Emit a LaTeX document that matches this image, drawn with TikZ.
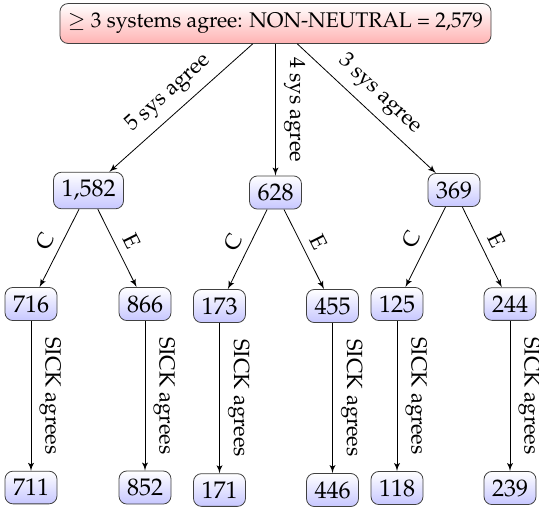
\documentclass[tikz,border=0pt,12pt]{standalone}
\usepackage[T1]{fontenc}
\usepackage{mathpazo}
\usetikzlibrary{shapes,arrows,calc}
\tikzstyle{line} = [draw, -latex']
\tikzstyle{total} = [draw=black!75, rectangle, rounded corners, top color=white, bottom color=red!30, text centered, font=\fontsize{10.6}{12.7}\selectfont, inner ysep=4.8pt]
\tikzstyle{count} = [draw=black!75, rectangle, rounded corners, top color=white, bottom color=blue!22, text centered]
\tikzstyle{edgelabel} = [midway, above, sloped, font=\small]

\begin{document}
\begin{tikzpicture}[x=0.5pt, y=-0.5pt]
        \useasboundingbox (0,0) rectangle (539,510);
        \node[total] (all) at (275.5,23.5) {$\geq$ 3 systems agree: NON-NEUTRAL = 2,579};
        % systems agreeing
        \node[count] (five) at (88.5,190.5) {1,582};
        \node[count] (four) at (275.5,192.5) {628};
        \node[count] (three) at (454,190) {369};
        % C / E split
        \node[count] (fiveC) at (31,304) {716};
        \node[count] (fiveE) at (145,304) {866};
        \node[count] (fourC) at (219.5,306) {173};
        \node[count] (fourE) at (332.5,306) {455};
        \node[count] (threeC) at (397,304) {125};
        \node[count] (threeE) at (510,304) {244};
        % SICK agrees
        \node[count] (fiveCs) at (31,487.5) {711};
        \node[count] (fiveEs) at (145,487.5) {852};
        \node[count] (fourCs) at (219.5,490) {171};
        \node[count] (fourEs) at (332.5,490) {446};
        \node[count] (threeCs) at (397,488) {118};
        \node[count] (threeEs) at (510,488) {239};
        \path[line] (all) -- node[edgelabel] {5 sys agree} (five);
        \path[line] (all) -- node[edgelabel] {4 sys agree} (four);
        \path[line] (all) -- node[edgelabel] {3 sys agree} (three);
        \path[line] (five) -- node[edgelabel] {C} (fiveC);
        \path[line] (five) -- node[edgelabel] {E} (fiveE);
        \path[line] (four) -- node[edgelabel] {C} (fourC);
        \path[line] (four) -- node[edgelabel] {E} (fourE);
        \path[line] (three) -- node[edgelabel] {C} (threeC);
        \path[line] (three) -- node[edgelabel] {E} (threeE);
        \path[line] (fiveC) -- node[edgelabel] {SICK agrees} (fiveCs);
        \path[line] (fiveE) -- node[edgelabel] {SICK agrees} (fiveEs);
        \path[line] (fourC) -- node[edgelabel] {SICK agrees} (fourCs);
        \path[line] (fourE) -- node[edgelabel] {SICK agrees} (fourEs);
        \path[line] (threeC) -- node[edgelabel] {SICK agrees} (threeCs);
        \path[line] (threeE) -- node[edgelabel] {SICK agrees} (threeEs);
\end{tikzpicture}
\end{document}
